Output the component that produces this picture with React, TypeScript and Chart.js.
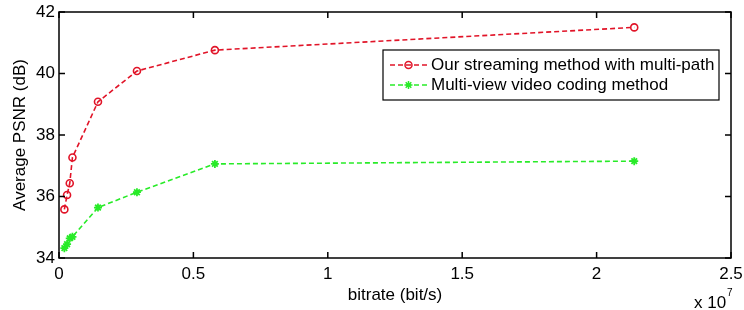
import React, { useEffect, useRef } from "react";
import { Chart, registerables } from "chart.js";

Chart.register(...registerables);

const bitrates = [0.2e6, 0.3e6, 0.4e6, 0.5e6, 1.45e6, 2.9e6, 5.8e6, 21.4e6];
const ourMethod = [35.58, 36.05, 36.43, 37.27, 39.08, 40.08, 40.76, 41.5];
const mvcMethod = [34.32, 34.45, 34.64, 34.69, 35.64, 36.14, 37.06, 37.15];
const seriesNames = ["Our streaming method with multi-path", "Multi-view video coding method"];
const xTicks = [0, 0.5e7, 1e7, 1.5e7, 2e7, 2.5e7];
const yTicks = [34, 36, 38, 40, 42];
const xTitle = "bitrate (bit/s)";
const yTitle = "Average PSNR (dB)";

const FONT = "'Liberation Sans', Arial, sans-serif";
const RED = "rgb(225,20,40)";
const GREEN = "rgb(40,235,40)";
const DASH = [5, 3];

const framePlugin = {
  id: "framePlugin",
  afterDraw(chart: any) {
    const { ctx, chartArea: a, scales } = chart;
    const xs = scales.x, ys = scales.y;
    ctx.save();
    ctx.strokeStyle = "#000";
    ctx.lineWidth = 1.5;
    ctx.strokeRect(a.left, a.top, a.right - a.left, a.bottom - a.top);
    const tl = 6;
    ctx.beginPath();
    xTicks.forEach((v) => {
      const px = xs.getPixelForValue(v);
      ctx.moveTo(px, a.bottom); ctx.lineTo(px, a.bottom - tl);
      ctx.moveTo(px, a.top); ctx.lineTo(px, a.top + tl);
    });
    yTicks.forEach((v) => {
      const py = ys.getPixelForValue(v);
      ctx.moveTo(a.left, py); ctx.lineTo(a.left + tl, py);
      ctx.moveTo(a.right, py); ctx.lineTo(a.right - tl, py);
    });
    ctx.stroke();

    // titles
    ctx.fillStyle = "#000";
    ctx.font = `17px ${FONT}`;
    ctx.textAlign = "center";
    ctx.textBaseline = "middle";
    ctx.fillText(xTitle, (a.left + a.right) / 2, 295);
    ctx.save();
    ctx.translate(20, (a.top + a.bottom) / 2);
    ctx.rotate(-Math.PI / 2);
    ctx.fillText(yTitle, 0, 0);
    ctx.restore();
    // exponent
    ctx.textAlign = "left";
    ctx.fillText("x 10", 694, 303);
    ctx.font = `10px ${FONT}`;
    ctx.fillText("7", 727, 293);

    // legend
    const lx = 383, ly = 50, lw = 336, lh = 50;
    ctx.fillStyle = "#fff";
    ctx.fillRect(lx, ly, lw, lh);
    ctx.strokeStyle = "#000";
    ctx.lineWidth = 1.2;
    ctx.strokeRect(lx, ly, lw, lh);
    chart.data.datasets.forEach((ds: any, i: number) => {
      const cy = ly + 15 + i * 20;
      ctx.strokeStyle = ds.borderColor;
      ctx.lineWidth = 1.5;
      ctx.setLineDash(DASH);
      ctx.beginPath();
      ctx.moveTo(390, cy); ctx.lineTo(427, cy);
      ctx.stroke();
      ctx.setLineDash([]);
      ctx.beginPath();
      if (ds.pointStyle === "circle") {
        ctx.arc(408.5, cy, 3.5, 0, Math.PI * 2);
      } else {
        const r = 4;
        ctx.moveTo(408.5 - r, cy); ctx.lineTo(408.5 + r, cy);
        ctx.moveTo(408.5, cy - r); ctx.lineTo(408.5, cy + r);
        ctx.moveTo(408.5 - r * 0.7, cy - r * 0.7); ctx.lineTo(408.5 + r * 0.7, cy + r * 0.7);
        ctx.moveTo(408.5 - r * 0.7, cy + r * 0.7); ctx.lineTo(408.5 + r * 0.7, cy - r * 0.7);
      }
      ctx.lineWidth = 1.5;
      ctx.stroke();
      ctx.fillStyle = "#000";
      ctx.font = `17px ${FONT}`;
      ctx.textAlign = "left";
      ctx.textBaseline = "middle";
      ctx.fillText(ds.label, 431, cy);
    });
    ctx.restore();
  },
};

export default function App() {
  const ref = useRef<HTMLCanvasElement>(null);
  useEffect(() => {
    document.body.style.margin = "0";
    const chart = new Chart(ref.current!, {
      type: "line",
      data: {
        datasets: [
          {
            label: seriesNames[0],
            data: bitrates.map((x, i) => ({ x, y: ourMethod[i] })),
            borderColor: RED,
            backgroundColor: "transparent",
            borderWidth: 1.6,
            borderDash: DASH,
            pointStyle: "circle",
            pointRadius: 3.5,
            pointBorderWidth: 1.6,
            pointBorderColor: RED,
            pointBackgroundColor: "transparent",
            tension: 0,
          },
          {
            label: seriesNames[1],
            data: bitrates.map((x, i) => ({ x, y: mvcMethod[i] })),
            borderColor: GREEN,
            backgroundColor: "transparent",
            borderWidth: 1.6,
            borderDash: DASH,
            pointStyle: "star",
            pointRadius: 4,
            pointBorderWidth: 1.8,
            pointBorderColor: GREEN,
            pointBackgroundColor: GREEN,
            tension: 0,
          },
        ],
      },
      options: {
        animation: false,
        responsive: false,
        maintainAspectRatio: false,
        layout: { padding: { top: 12, right: 13, left: 0, bottom: 0 } },
        plugins: { legend: { display: false }, tooltip: { enabled: false } },
        scales: {
          x: {
            type: "linear",
            min: 0,
            max: 2.5e7,
            grid: { display: false, drawTicks: false },
            border: { display: false },
            afterBuildTicks: (s: any) => { s.ticks = xTicks.map((v) => ({ value: v })); },
            ticks: {
              color: "#000",
              font: { family: FONT, size: 17 },
              padding: 6,
              maxRotation: 0,
              autoSkip: false,
              callback: (v: any) => String(Number(v) / 1e7),
            },
            afterFit: (s: any) => { s.height = 52; s.paddingLeft = 0; s.paddingRight = 0; },
          },
          y: {
            min: 34,
            max: 42,
            grid: { display: false, drawTicks: false },
            border: { display: false },
            afterBuildTicks: (s: any) => { s.ticks = yTicks.map((v) => ({ value: v })); },
            ticks: {
              color: "#000",
              font: { family: FONT, size: 17 },
              padding: 4,
              autoSkip: false,
            },
            afterFit: (s: any) => { s.width = 59; s.paddingTop = 0; s.paddingBottom = 0; },
          },
        },
      },
      plugins: [framePlugin],
    });
    return () => chart.destroy();
  }, []);
  return (
    <div style={{ position: "fixed", left: 0, top: 0, width: 744, height: 310, background: "#fff" }}>
      <canvas ref={ref} width={744} height={310} style={{ width: 744, height: 310 }} />
    </div>
  );
}
